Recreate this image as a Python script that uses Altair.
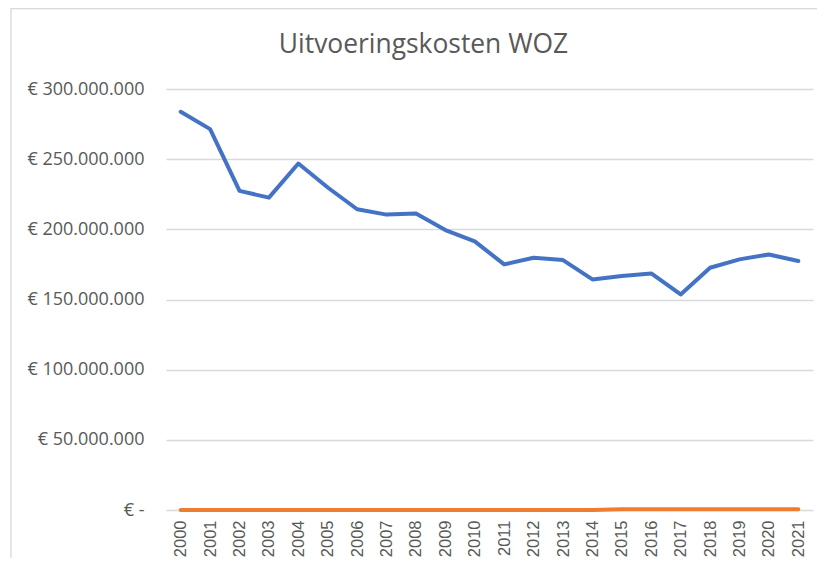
import altair as alt
import pandas as pd

years = [str(y) for y in range(2000, 2022)]
uitvoeringskosten = [283.8, 271.4, 227.4, 222.6, 246.9, 229.8, 214.3, 210.5, 211.2, 199.5,
                     191.4, 175.0, 179.8, 178.1, 164.3, 166.7, 168.6, 153.6, 172.6, 178.6,
                     182.1, 177.4]
tweede_reeks = [0, 0, 0, 0, 0, 0, 0, 0, 0, 0, 0, 0, 0, 0, 0, 0.5, 0.5, 0.5, 0.5, 0.5, 0.5, 0.5]
series_names = ["Uitvoeringskosten", "Overig"]
series_colors = ["#4472C4", "#ED7D31"]
chart_title = "Uitvoeringskosten WOZ"

rows = []
for name, vals in zip(series_names, [uitvoeringskosten, tweede_reeks]):
    for y, v in zip(years, vals):
        rows.append({"jaar": y, "reeks": name, "kosten": v * 1_000_000})
df = pd.DataFrame(rows)

W, H = 647, 421

label_expr = ("datum.value == 0 ? '€ -' : '€ ' + "
              "replace(replace(format(datum.value, ','), ',', '.'), ',', '.')")

lines = alt.Chart(df).mark_line(strokeWidth=4, strokeCap="round", strokeJoin="round").encode(
    x=alt.X("jaar:O", scale=alt.Scale(type="point", padding=0.5),
            axis=alt.Axis(title=None, labelAngle=270, labelFont="Liberation Sans",
                          labelFontSize=16.5, labelColor="#595959", ticks=False, tickSize=0,
                          labelPadding=10, domain=False, grid=False)),
    y=alt.Y("kosten:Q", scale=alt.Scale(domain=[0, 300_000_000], nice=False),
            axis=alt.Axis(title=None, values=[0, 50e6, 100e6, 150e6, 200e6, 250e6, 300e6],
                          labelExpr=label_expr, labelFont="Open Sans", labelFontSize=18,
                          labelColor="#595959", ticks=False, domain=False, labelPadding=22,
                          gridColor="#d9d9d9", gridWidth=1.3)),
    color=alt.Color("reeks:N", scale=alt.Scale(domain=series_names, range=series_colors),
                    legend=None),
    order=alt.Order("jaar:O"),
)

border = alt.Chart(pd.DataFrame({"k": [0]})).mark_rect(
    fill=None, stroke="#d9d9d9", strokeWidth=1.3
).encode(x=alt.value(-155), x2=alt.value(700), y=alt.value(-80.3), y2=alt.value(520))

title = alt.Chart(pd.DataFrame({"t": [chart_title]})).mark_text(
    font="Open Sans", fontSize=26.4, color="#595959", align="center", baseline="alphabetic"
).encode(text="t:N", x=alt.value(257.5), y=alt.value(-35.7))

chart = alt.layer(border, title, lines).properties(
    width=W, height=H,
    autosize=alt.AutoSizeParams(type="none"),
    padding={"left": 158, "top": 81, "right": 4, "bottom": 48},
).configure_view(stroke=None)

chart.save("out.html", embed_options={"renderer": "svg", "actions": False})
